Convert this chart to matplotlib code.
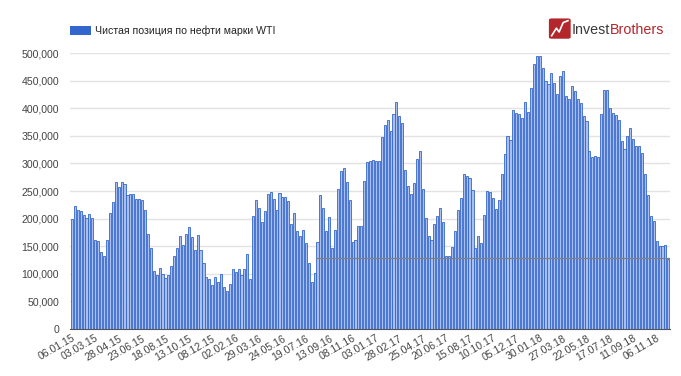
import matplotlib.pyplot as plt
import matplotlib.patches as mpatches
from matplotlib.ticker import FuncFormatter

plt.rcParams['font.family'] = ['Liberation Sans', 'DejaVu Sans']

# weekly net position, thousands of contracts
net_position = [
    199, 223, 216, 214, 207, 202, 208, 202, 162, 159, 139, 133, 162, 211, 230, 267,
    257, 267, 262, 243, 244, 244, 235, 236, 233, 215, 173, 147, 105, 98, 111, 100,
    92, 98, 115, 132, 147, 168, 153, 172, 184,
    167, 143, 171, 144, 119, 95, 90, 79, 94, 86, 99, 76, 68, 81, 109, 104,
    109, 97, 109, 135, 90, 204, 234, 220, 194, 214, 245, 248, 235, 216, 246, 240,
    239, 232, 191, 211, 178, 168, 179, 156, 119,
    86, 101, 158, 243, 219, 178, 203, 146, 180, 254, 286, 291, 266, 233, 158, 162,
    187, 187, 269, 303, 305, 307, 304, 305, 348, 370, 378, 358, 390, 412, 386, 374,
    288, 259, 244, 265, 308, 322, 254, 202, 168,
    161, 191, 205, 220, 194, 133, 132, 149, 178, 215, 237, 281, 278, 273, 251, 146,
    169, 156, 207, 250, 248, 237, 218, 234, 280, 317, 349, 342, 396, 392, 390, 383,
    411, 394, 437, 481, 495, 495, 472, 449, 443,
    464, 445, 425, 458, 467, 423, 416, 441, 432, 417, 410, 385, 376, 323, 312, 314,
    312, 390, 433, 433, 400, 392, 387, 378, 341, 327, 350, 365, 345, 332, 331, 319,
    281, 242, 205, 195, 159, 151, 150, 153, 126,
]
net_position = [v * 1000 for v in net_position]

# one label every 8 weeks
tick_labels = [
    '06.01.15', '03.03.15', '28.04.15', '23.06.15', '18.08.15', '13.10.15',
    '08.12.15', '02.02.16', '29.03.16', '24.05.16', '19.07.16', '13.09.16',
    '08.11.16', '03.01.17', '28.02.17', '25.04.17', '20.06.17', '15.08.17',
    '10.10.17', '05.12.17', '30.01.18', '27.03.18', '22.05.18', '17.07.18',
    '11.09.18', '06.11.18',
]
label_step = 8

# grey reference line over the right part of the chart
ref_level = 129000
ref_start = 84

legend_text = 'Чистая позиция по нефти марки WTI'

fig = plt.figure(figsize=(6.81, 3.76), dpi=100)
ax = fig.add_axes([0.103, 0.125, 0.881, 0.734])

x = range(len(net_position))
ax.bar(x, net_position, width=0.72, color='#a9c0ee', edgecolor='#3366cc',
       linewidth=0.6, zorder=2)

ax.plot([ref_start - 0.5, len(net_position) - 0.5], [ref_level, ref_level],
        color='#808080', linewidth=0.9, zorder=3)

ax.set_xlim(-0.6, len(net_position) - 0.4)
ax.set_ylim(0, 500000)
ax.set_yticks(range(0, 500001, 50000))
ax.yaxis.set_major_formatter(FuncFormatter(lambda v, p: f'{int(v):,}'))
ax.set_xticks(range(0, label_step * len(tick_labels), label_step))
ax.set_xticklabels(tick_labels, rotation=30, ha='right', rotation_mode='anchor')

ax.tick_params(axis='both', length=0, labelsize=7.6, colors='#444444')
ax.tick_params(axis='y', pad=8)
ax.tick_params(axis='x', pad=3)
ax.grid(axis='y', color='#e3e3e3', linewidth=1, zorder=0)
for side in ['top', 'right', 'left']:
    ax.spines[side].set_visible(False)
ax.spines['bottom'].set_color('#555555')
ax.spines['bottom'].set_zorder(4)

# legend
fig.patches.append(mpatches.Rectangle((0.1035, 0.908), 0.030, 0.024,
                                      transform=fig.transFigure,
                                      facecolor='#3366cc', edgecolor='none'))
fig.text(0.140, 0.919, legend_text, fontsize=7.6, color='#222222', va='center')

# logo
fig.patches.append(mpatches.FancyBboxPatch((0.806, 0.897), 0.032, 0.054,
                                           boxstyle='round,pad=0,rounding_size=0.004',
                                           transform=fig.transFigure,
                                           facecolor='#b3262b', edgecolor='none'))
fig.lines.append(plt.Line2D([0.810, 0.817, 0.821, 0.827, 0.834],
                            [0.905, 0.925, 0.915, 0.940, 0.945],
                            transform=fig.transFigure, color='white', linewidth=1.2))
t1 = fig.text(0.840, 0.921, 'Invest', fontsize=10.3, color='#3a3a3a', va='center')
fig.canvas.draw()
bb = t1.get_window_extent().transformed(fig.transFigure.inverted())
fig.text(bb.x1, 0.921, 'Brothers', fontsize=10.3, color='#b3262b', va='center')

fig.savefig('out.png', dpi=100, facecolor='white')
